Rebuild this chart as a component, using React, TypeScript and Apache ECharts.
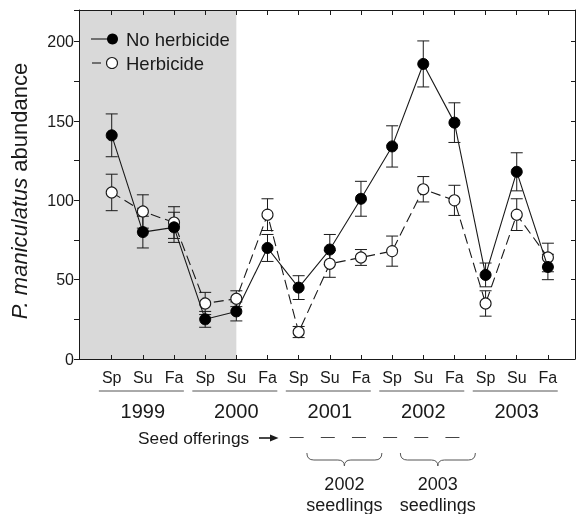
import React, { useEffect, useRef } from 'react';
import * as echarts from 'echarts';

const seasons = ['Sp', 'Su', 'Fa', 'Sp', 'Su', 'Fa', 'Sp', 'Su', 'Fa', 'Sp', 'Su', 'Fa', 'Sp', 'Su', 'Fa'];
const years = ['1999', '2000', '2001', '2002', '2003'];
const noHerb = [141, 80, 83, 25, 30, 70, 45, 69, 101, 134, 186, 149, 53, 118, 58];
const noHerbErr = [13.5, 10, 9.5, 5, 6, 8.5, 7.5, 9.5, 11, 13, 14.5, 12.5, 7.5, 12, 8];
const herb = [105, 93, 86, 35, 38, 91, 17, 60, 64, 68, 107, 100, 35, 91, 64];
const herbErr = [11.5, 10.5, 10, 7, 5, 10, 3.5, 8.5, 5, 9.5, 8, 9.5, 8, 10, 9];
const seedOfferings = [6, 7, 8, 9, 10, 11];
const seedlingCohorts = [
  { label: '2002', from: 7, to: 8 },
  { label: '2003', from: 10, to: 11 },
];
const shadedUntil = 4;
const seriesNames = ['No herbicide', 'Herbicide'];

const FONT = '"Liberation Sans", Arial, Helvetica, sans-serif';
const INK = '#1a1a1a';

echarts.graphic.registerShape(
  'brace',
  echarts.graphic.extendPath('M0,0 Q0,7 7,7 L31,7 Q37.5,7 37.5,13 Q37.5,7 44,7 L68,7 Q75,7 75,0', {})
);

const idx = seasons.map((_, i) => i);

function errData(vals: number[], errs: number[]) {
  return vals.map((v, i) => [i, v - errs[i], v + errs[i]]);
}

function errRender(params: any, api: any) {
  const x = api.value(0);
  const lo = api.coord([x, api.value(1)]);
  const hi = api.coord([x, api.value(2)]);
  const hw = 6;
  const st = { stroke: INK, lineWidth: 1 };
  return {
    type: 'group',
    children: [
      { type: 'line', shape: { x1: hi[0], y1: hi[1], x2: lo[0], y2: lo[1] }, style: st },
      { type: 'line', shape: { x1: hi[0] - hw, y1: hi[1], x2: hi[0] + hw, y2: hi[1] }, style: st },
      { type: 'line', shape: { x1: lo[0] - hw, y1: lo[1], x2: lo[0] + hw, y2: lo[1] }, style: st },
    ],
  };
}

export default function App() {
  const ref = useRef<HTMLDivElement>(null);
  useEffect(() => {
    if (!ref.current) return;
    const chart = echarts.init(ref.current, null, { renderer: 'svg' });
    const axisLine = { show: true, onZero: false, lineStyle: { color: INK, width: 1 } };
    const option: any = {
      animation: false,
      grid: { left: 79, right: 1, top: 10, bottom: 155, containLabel: false, outerBoundsMode: 'none' },
      xAxis: [
        {
          type: 'value', min: -1.05, max: 14.87, position: 'bottom', z: 10,
          axisLine,
          axisTick: { show: true, inside: true, length: 4, customValues: idx, lineStyle: { color: INK } },
          axisLabel: {
            customValues: idx, formatter: (v: number) => seasons[Math.round(v)] ?? '',
            fontSize: 16, fontFamily: FONT, color: INK, margin: 10,
          },
          splitLine: { show: false },
        },
        {
          type: 'value', min: -1.05, max: 14.87, position: 'top', z: 10,
          axisLine,
          axisTick: { show: true, inside: true, length: 5, customValues: idx, lineStyle: { color: INK } },
          axisLabel: { show: false },
          splitLine: { show: false },
        },
      ],
      yAxis: [
        {
          type: 'value', min: 0, max: 220, interval: 25, position: 'left', z: 10,
          axisLine,
          axisTick: { show: true, inside: false, length: 5, lineStyle: { color: INK } },
          axisLabel: {
            formatter: (v: number) => (v % 50 === 0 ? String(v) : ''),
            fontSize: 16, fontFamily: FONT, color: INK, margin: 5,
          },
          splitLine: { show: false },
        },
        {
          type: 'value', min: 0, max: 220, interval: 25, position: 'right', z: 10,
          axisLine,
          axisTick: { show: true, inside: true, length: 4, lineStyle: { color: INK } },
          axisLabel: { show: false },
          splitLine: { show: false },
        },
      ],
      series: [
        {
          type: 'custom', z: 1, silent: true,
          data: [[shadedUntil, 0]], encode: { x: 0, y: 1 },
          renderItem: (params: any, api: any) => {
            const cs = params.coordSys;
            const x1 = api.coord([api.value(0), 0])[0];
            return { type: 'rect', shape: { x: cs.x, y: cs.y, width: x1 - cs.x, height: cs.height }, style: { fill: '#d9d9d9' } };
          },
        },
        { type: 'custom', z: 2, data: errData(noHerb, noHerbErr), encode: { x: 0, y: [1, 2] }, renderItem: errRender },
        { type: 'custom', z: 2, data: errData(herb, herbErr), encode: { x: 0, y: [1, 2] }, renderItem: errRender },
        {
          name: seriesNames[1], type: 'line', z: 3,
          data: herb.map((v, i) => [i, v]),
          symbol: 'circle', symbolSize: 11,
          lineStyle: { color: INK, width: 1.1, type: [10, 5] },
          itemStyle: { color: '#ffffff', borderColor: INK, borderWidth: 1.1 },
        },
        {
          name: seriesNames[0], type: 'line', z: 4,
          data: noHerb.map((v, i) => [i, v]),
          symbol: 'circle', symbolSize: 11,
          lineStyle: { color: INK, width: 1.1 },
          itemStyle: { color: '#000000', borderColor: '#000000', borderWidth: 1 },
        },
      ],
    };
    chart.setOption(option);

    const px = (i: number) => chart.convertToPixel({ xAxisIndex: 0 }, i) as number;
    const g: any[] = [];
    const Z = 50;
    const txt = (text: string, x: number, y: number, size: number, align = 'center') => ({
      type: 'text', x, y, silent: true, z: Z,
      style: { text, fontSize: size, fontFamily: FONT, fill: INK, align, verticalAlign: 'middle' },
    });
    // y-axis title
    g.push({
      type: 'text', x: 19, y: 191, rotation: Math.PI / 2, silent: true, z: Z,
      style: {
        text: '{i|P. maniculatus} abundance', fontSize: 22, fontFamily: FONT, fill: INK,
        align: 'center', verticalAlign: 'middle',
        rich: { i: { fontStyle: 'italic', fontSize: 22, fontFamily: FONT, fill: INK } },
      },
    });
    // legend
    g.push({ type: 'line', z: Z, shape: { x1: 91, y1: 39, x2: 110, y2: 39 }, style: { stroke: INK, lineWidth: 1.1 } });
    g.push({ type: 'circle', z: Z, shape: { cx: 112.5, cy: 39, r: 5.5 }, style: { fill: '#000' } });
    g.push(txt(seriesNames[0], 126, 39, 18.5, 'left'));
    g.push({ type: 'line', z: Z, shape: { x1: 92, y1: 63, x2: 101, y2: 63 }, style: { stroke: INK, lineWidth: 1.1 } });
    g.push({ type: 'circle', z: Z, shape: { cx: 112, cy: 63, r: 5.5 }, style: { fill: '#fff', stroke: INK, lineWidth: 1.1 } });
    g.push(txt(seriesNames[1], 126, 63, 18.5, 'left'));
    // year underlines and labels
    years.forEach((y, k) => {
      const c = px(k * 3 + 1);
      g.push({ type: 'line', z: Z, shape: { x1: c - 44, y1: 391, x2: c + 41, y2: 391 }, style: { stroke: '#555', lineWidth: 1 } });
      g.push(txt(y, c, 411, 20));
    });
    // seed offerings
    g.push(txt('Seed offerings', 138, 438, 17.3, 'left'));
    g.push({ type: 'line', z: Z, shape: { x1: 259, y1: 438, x2: 272, y2: 438 }, style: { stroke: INK, lineWidth: 1.6 } });
    g.push({ type: 'polygon', z: Z, shape: { points: [[270, 434.5], [278.5, 438], [270, 441.5]] }, style: { fill: INK } });
    seedOfferings.forEach((i) => {
      const c = px(i) - 2;
      g.push({ type: 'line', z: Z, shape: { x1: c - 7, y1: 437.5, x2: c + 7, y2: 437.5 }, style: { stroke: '#444', lineWidth: 1 } });
    });
    seedlingCohorts.forEach((s) => {
      const c = (px(s.from) + px(s.to)) / 2 - 1;
      g.push({ type: 'brace', z: Z, x: c - 37.5, y: 453, silent: true, style: { fill: 'none', stroke: '#555', lineWidth: 1 } });
      g.push(txt(s.label, c, 484, 18));
      g.push(txt('seedlings', c, 505, 18));
    });
    chart.setOption({ graphic: g });
    return () => chart.dispose();
  }, []);
  return <div ref={ref} style={{ position: 'fixed', left: 0, top: 0, width: 576, height: 514 }} />;
}
